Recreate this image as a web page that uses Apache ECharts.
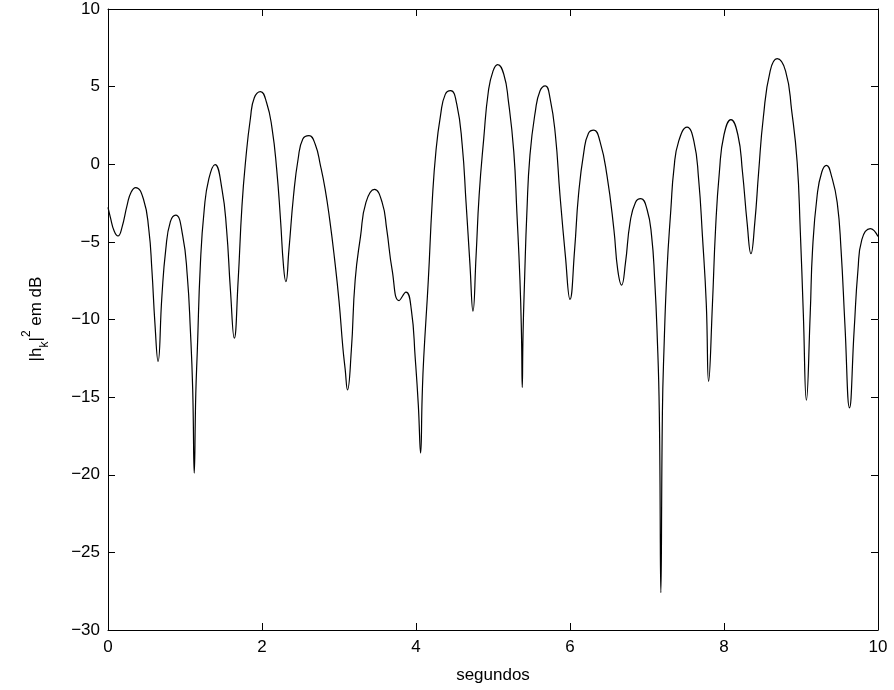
<!DOCTYPE html>
<html>
<head>
<meta charset="utf-8">
<script src="https://cdn.jsdelivr.net/npm/echarts@6/dist/echarts.min.js"></script>
<style>
html,body{margin:0;padding:0;background:#fff;}
#chart{width:894px;height:690px;}
</style>
</head>
<body>
<div id="chart"></div>
<script>
// time (s)
var times = [0.00,0.03,0.08,0.13,0.18,0.25,0.30,0.36,0.46,0.53,0.57,0.61,0.65,0.70,0.75,0.81,0.88,0.97,1.03,1.07,1.10,1.12,1.14,1.16,1.20,1.25,1.31,1.39,1.48,1.54,1.59,1.64,1.69,1.74,1.79,1.85,1.90,1.98,2.06,2.13,2.19,2.24,2.28,2.31,2.35,2.41,2.47,2.53,2.61,2.69,2.76,2.82,2.88,2.94,3.00,3.05,3.08,3.11,3.16,3.21,3.28,3.35,3.46,3.56,3.62,3.69,3.78,3.87,3.94,3.99,4.03,4.06,4.08,4.10,4.16,4.21,4.26,4.32,4.38,4.45,4.53,4.60,4.65,4.70,4.74,4.78,4.82,4.88,4.94,5.00,5.06,5.14,5.20,5.27,5.31,5.35,5.37,5.38,5.39,5.41,5.44,5.48,5.55,5.61,5.68,5.74,5.81,5.87,5.94,6.00,6.06,6.11,6.18,6.24,6.31,6.39,6.48,6.57,6.62,6.67,6.72,6.78,6.85,6.92,7.00,7.06,7.10,7.13,7.16,7.18,7.20,7.22,7.26,7.31,7.35,7.41,7.52,7.61,7.67,7.72,7.77,7.80,7.85,7.89,7.94,8.00,8.09,8.18,8.24,8.30,8.35,8.40,8.45,8.51,8.60,8.69,8.80,8.88,8.95,8.99,9.03,9.07,9.12,9.15,9.21,9.27,9.33,9.40,9.47,9.52,9.57,9.63,9.69,9.74,9.79,9.90,10.00];
// |h_k|^2 in dB
var gainDb = [-2.78,-3.4,-4.3,-4.62,-4.1,-2.6,-1.8,-1.50,-2.24,-4.2,-6.8,-10.3,-12.7,-8.5,-5.5,-3.7,-3.28,-4.6,-7.2,-10.7,-14.5,-19.9,-14.8,-12.0,-6.4,-2.9,-0.93,-0.02,-1.6,-4.2,-8.1,-11.2,-7.5,-2.67,0.37,2.98,4.28,4.68,3.96,2.33,-0.28,-3.54,-6.6,-7.57,-5.5,-2.0,0.37,1.63,1.85,1.3,-0.1,-1.6,-3.6,-6.0,-8.8,-11.8,-13.2,-14.54,-12.0,-7.46,-4.63,-2.46,-1.62,-2.46,-4.2,-6.8,-8.78,-8.24,-9.4,-12.5,-15.5,-18.6,-15.0,-12.5,-7.46,-2.46,0.9,3.2,4.5,4.74,3.85,1.24,-2.46,-6.4,-9.46,-5.93,-2.0,1.67,4.7,6.0,6.42,5.8,4.07,0.8,-3.1,-7.46,-11.0,-14.38,-11.0,-7.46,-3.1,0.59,3.41,4.72,5.05,4.28,1.9,-2.0,-5.9,-8.7,-5.5,-2.0,0.8,2.0,2.2,1.46,-0.72,-4.2,-6.8,-7.78,-6.37,-3.76,-2.46,-2.22,-2.9,-4.63,-7.46,-10.7,-16.0,-27.6,-16.0,-12.0,-6.8,-2.9,-0.28,1.46,2.39,1.46,-0.93,-4.63,-9.0,-13.98,-9.0,-4.2,-0.5,1.9,2.87,1.9,-0.5,-3.76,-5.76,-3.76,-0.5,2.98,6.02,6.8,6.0,3.41,0.15,-4.2,-9.6,-15.2,-9.6,-5.5,-2.0,-0.5,-0.07,-0.83,-2.46,-5.5,-10.3,-15.69,-10.7,-6.8,-4.85,-4.15,-4.65];
var xTicks = [0,2,4,6,8,10];
var yTicks = [-30,-25,-20,-15,-10,-5,0,5,10];

var data = times.map(function(t,i){return [t, gainDb[i]];});
var FONT = 'Liberation Sans, Arial, Helvetica, sans-serif';
function fmt(v){ return String(v).replace('-', '\u2212'); }

var chart = echarts.init(document.getElementById('chart'), null, {renderer:'canvas'});
var axisCommon = {
  axisLine:{show:true, onZero:false, lineStyle:{color:'#000', width:1}},
  axisTick:{show:true, inside:true, length:7, lineStyle:{color:'#000', width:1}},
  splitLine:{show:false}
};
chart.setOption({
  animation:false,
  backgroundColor:'#fff',
  grid:{left:108, right:16, top:9, bottom:60, containLabel:false},
  xAxis:[
    Object.assign({type:'value', min:xTicks[0], max:xTicks[xTicks.length-1], interval:2, position:'bottom',
      name:'segundos', nameLocation:'middle', nameGap:37,
      nameTextStyle:{color:'#000', fontSize:17, fontFamily:FONT},
      axisLabel:{color:'#000', fontSize:17, fontFamily:FONT, margin:9, formatter:fmt}}, axisCommon),
    Object.assign({type:'value', min:xTicks[0], max:xTicks[xTicks.length-1], interval:2, position:'top',
      axisLabel:{show:false}}, axisCommon)
  ],
  yAxis:[
    Object.assign({type:'value', min:yTicks[0], max:yTicks[yTicks.length-1], interval:5, position:'left',
      axisLabel:{color:'#000', fontSize:17, fontFamily:FONT, margin:8, formatter:fmt}}, axisCommon),
    Object.assign({type:'value', min:yTicks[0], max:yTicks[yTicks.length-1], interval:5, position:'right',
      axisLabel:{show:false}}, axisCommon)
  ],
  graphic:[{
    type:'text',
    x:36, y:319,
    rotation:Math.PI/2,
    style:{
      text:'{n||h}{sub|k}{n||}{sup|2}{n| em dB}',
      fontFamily:FONT, fill:'#000',
      align:'center', verticalAlign:'middle',
      rich:{
        n:{fontSize:17, fontFamily:FONT, fill:'#000', lineHeight:30, verticalAlign:'middle'},
        sub:{fontSize:12, fontFamily:FONT, fill:'#000', lineHeight:14, verticalAlign:'bottom'},
        sup:{fontSize:12, fontFamily:FONT, fill:'#000', lineHeight:14, verticalAlign:'top'}
      }
    }
  }],
  series:[{
    type:'line',
    data:data,
    xAxisIndex:0, yAxisIndex:0,
    showSymbol:false,
    smooth:0.5,
    lineStyle:{color:'#000', width:1.2},
    clip:true
  }]
});
</script>
</body>
</html>
